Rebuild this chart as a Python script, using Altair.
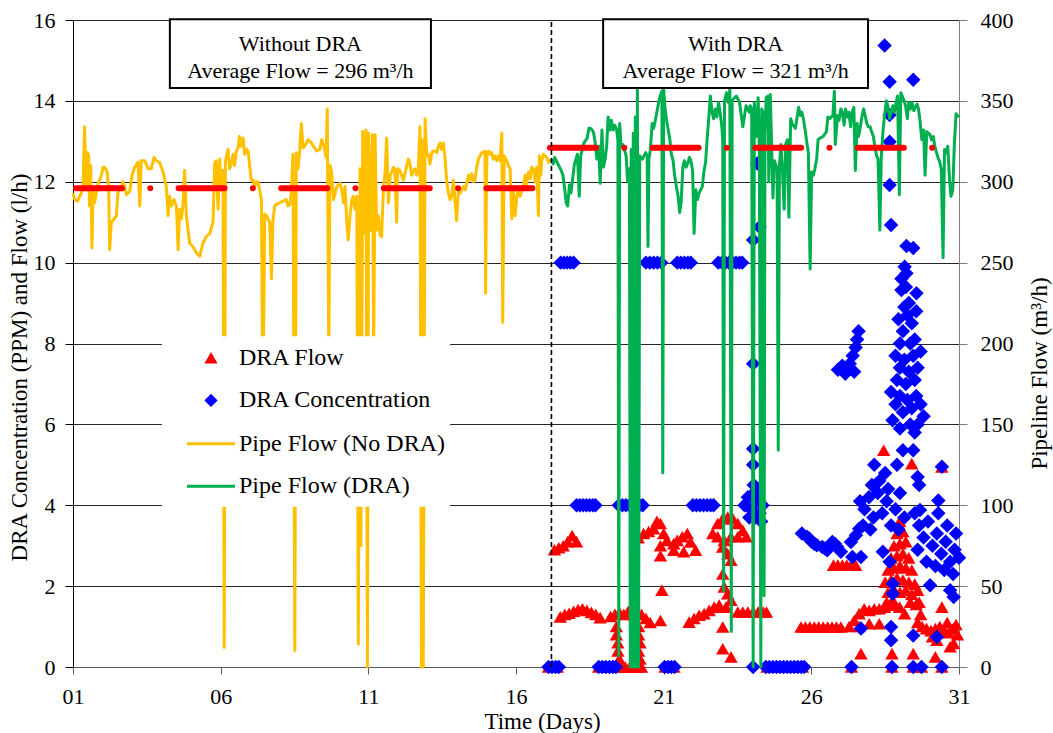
import altair as alt
import pandas as pd

FONT = "Liberation Serif"
RED = "#FF0000"
BLUE = "#0000FF"
YELLOW = "#FFC000"
GREEN = "#00B050"

# ---------------- axes / labels ----------------
x_ticks = [1, 6, 11, 16, 21, 26, 31]
left_ticks = [0, 2, 4, 6, 8, 10, 12, 14, 16]
right_ticks = [0, 50, 100, 150, 200, 250, 300, 350, 400]

series_names = ["DRA Flow", "DRA Concentration", "Pipe Flow (No DRA)", "Pipe Flow (DRA)"]

# ---------------- annotations ----------------
split_day = 17.2
avg_flow = [296, 321]
avg_start = [1.1, 17.15]
avg_end = [16.9, 31.0]

box_title = ["Without DRA", "With DRA"]
box_left = [4.28, 18.95]
box_right = [13.12, 27.92]
box_top = 16.02
box_bottom = 14.32
box_rows = [15.24, 14.56]

legend_bg_days = [4.01, 13.77]
legend_bg_vals = [3.96, 8.18]

# ---------------- data: pipeline flow (m3/h) ----------------
pipe_no_dra = [
    (1.00, 293), (1.06, 289), (1.15, 288), (1.28, 293), (1.34, 297), (1.39, 334), (1.45, 295), (1.49, 318),
    (1.53, 316), (1.56, 285), (1.60, 310), (1.64, 259), (1.68, 295), (1.73, 287), (1.79, 293), (1.85, 299),
    (1.90, 301), (1.96, 304), (2.02, 309), (2.07, 309), (2.16, 306), (2.21, 295), (2.24, 258), (2.30, 275),
    (2.35, 276), (2.47, 279), (2.52, 293), (2.64, 297), (2.69, 300), (2.75, 297), (2.81, 292), (2.92, 294),
    (3.00, 304), (3.09, 309), (3.20, 312), (3.26, 285), (3.31, 313), (3.43, 313), (3.54, 308), (3.65, 308),
    (3.74, 315), (3.82, 313), (3.93, 312), (4.05, 306), (4.16, 297), (4.22, 279), (4.27, 291), (4.33, 285),
    (4.42, 289), (4.50, 285), (4.56, 258), (4.61, 283), (4.67, 277), (4.72, 285), (4.78, 307), (4.84, 279),
    (4.95, 262), (5.06, 260), (5.18, 256), (5.29, 254), (5.40, 262), (5.51, 266), (5.63, 268), (5.74, 275),
    (5.80, 312), (5.85, 313), (5.91, 283), (5.97, 314), (6.02, 295), (6.08, 307), (6.12, 12), (6.16, 313),
    (6.25, 320), (6.30, 308), (6.36, 311), (6.42, 317), (6.47, 310), (6.53, 319), (6.59, 321), (6.64, 328),
    (6.70, 322), (6.76, 327), (6.81, 317), (6.87, 320), (6.93, 319), (6.98, 310), (7.04, 301), (7.10, 301),
    (7.15, 297), (7.21, 300), (7.26, 300), (7.32, 295), (7.38, 289), (7.43, 150), (7.49, 280), (7.55, 279),
    (7.60, 277), (7.66, 275), (7.72, 240), (7.77, 276), (7.83, 285), (7.89, 286), (8.00, 287), (8.11, 288),
    (8.22, 289), (8.28, 285), (8.34, 286), (8.39, 293), (8.45, 317), (8.51, 10), (8.56, 318), (8.62, 308),
    (8.68, 320), (8.73, 336), (8.79, 321), (8.85, 322), (8.96, 326), (9.07, 324), (9.14, 322), (9.25, 319),
    (9.36, 320), (9.42, 326), (9.50, 322), (9.57, 315), (9.61, 345), (9.66, 190), (9.70, 310), (9.76, 306),
    (9.82, 289), (9.93, 297), (10.04, 299), (10.10, 295), (10.16, 287), (10.21, 297), (10.27, 275), (10.32, 264),
    (10.38, 279), (10.44, 289), (10.49, 291), (10.55, 283), (10.61, 291), (10.66, 14), (10.72, 308), (10.75, 75),
    (10.81, 331), (10.87, 268), (10.92, 332), (10.97, 0), (11.01, 330), (11.08, 270), (11.14, 329), (11.18, 190),
    (11.23, 329), (11.28, 270), (11.34, 279), (11.40, 267), (11.45, 266), (11.51, 295), (11.57, 306), (11.62, 327),
    (11.68, 287), (11.74, 304), (11.79, 306), (11.85, 309), (11.90, 307), (11.96, 275), (11.99, 308), (12.07, 307),
    (12.19, 301), (12.30, 310), (12.36, 314), (12.41, 311), (12.47, 304), (12.52, 307), (12.58, 308), (12.64, 304),
    (12.69, 308), (12.75, 334), (12.80, 0), (12.83, 326), (12.86, 0), (12.92, 339), (12.98, 316), (13.03, 317),
    (13.09, 311), (13.15, 318), (13.20, 319), (13.26, 319), (13.32, 318), (13.37, 322), (13.43, 324), (13.48, 320),
    (13.54, 324), (13.60, 314), (13.65, 301), (13.71, 293), (13.77, 289), (13.82, 291), (13.88, 301), (13.94, 287),
    (13.99, 276), (14.05, 295), (14.11, 293), (14.16, 295), (14.22, 297), (14.28, 295), (14.33, 299), (14.39, 304),
    (14.44, 301), (14.50, 305), (14.56, 300), (14.61, 301), (14.67, 309), (14.73, 314), (14.78, 316), (14.84, 318),
    (14.90, 318), (14.95, 319), (14.97, 231), (15.01, 316), (15.07, 319), (15.12, 317), (15.18, 318), (15.23, 314),
    (15.29, 316), (15.35, 313), (15.40, 316), (15.46, 313), (15.52, 330), (15.55, 213), (15.60, 316), (15.69, 313),
    (15.74, 310), (15.80, 308), (15.86, 277), (15.91, 295), (15.97, 279), (16.02, 289), (16.08, 297), (16.14, 291),
    (16.25, 297), (16.31, 304), (16.36, 298), (16.42, 306), (16.48, 302), (16.53, 309), (16.59, 308), (16.65, 300),
    (16.70, 309), (16.76, 279), (16.79, 316), (16.84, 304), (16.87, 313), (16.93, 317), (16.98, 316), (17.04, 315),
    (17.10, 312), (17.15, 314),
]

pipe_dra = [
    (17.20, 314), (17.26, 311), (17.31, 315), (17.42, 311), (17.53, 307), (17.59, 304), (17.64, 297), (17.70, 287),
    (17.75, 285), (17.81, 298), (17.86, 293), (17.92, 302), (17.97, 310), (18.03, 314), (18.08, 317), (18.14, 291),
    (18.19, 316), (18.30, 324), (18.41, 327), (18.47, 333), (18.52, 333), (18.58, 332), (18.63, 330), (18.69, 323),
    (18.74, 314), (18.80, 322), (18.85, 299), (18.91, 332), (18.96, 309), (19.02, 314), (19.07, 322), (19.12, 340),
    (19.18, 332), (19.23, 338), (19.29, 332), (19.34, 335), (19.40, 333), (19.45, 326), (19.48, 7), (19.51, 336),
    (19.56, 322), (19.62, 323), (19.73, 316), (19.78, 300), (19.84, 308), (19.87, 0), (19.90, 320), (19.94, 0),
    (19.97, 330), (20.00, 0), (20.04, 340), (20.07, 0), (20.11, 357), (20.15, 0), (20.19, 316), (20.28, 314),
    (20.39, 318), (20.44, 316), (20.47, 260), (20.50, 314), (20.55, 320), (20.61, 336), (20.66, 333), (20.72, 338),
    (20.77, 343), (20.83, 349), (20.88, 353), (20.94, 356), (20.97, 120), (21.00, 357), (21.05, 345), (21.10, 338),
    (21.21, 326), (21.26, 317), (21.32, 313), (21.37, 304), (21.43, 297), (21.49, 291), (21.54, 281), (21.59, 287),
    (21.65, 309), (21.70, 313), (21.76, 309), (21.81, 311), (21.87, 315), (21.92, 313), (21.98, 307), (22.03, 268),
    (22.09, 295), (22.14, 289), (22.20, 293), (22.25, 295), (22.31, 297), (22.36, 306), (22.42, 312), (22.47, 326),
    (22.53, 340), (22.58, 353), (22.64, 343), (22.69, 339), (22.75, 345), (22.80, 340), (22.86, 349), (22.91, 343),
    (22.97, 334), (23.00, 326), (23.03, 47), (23.06, 350), (23.13, 355), (23.19, 349), (23.24, 357), (23.29, 22),
    (23.32, 350), (23.35, 351), (23.46, 353), (23.57, 349), (23.68, 334), (23.79, 347), (23.90, 343), (23.93, 347),
    (23.98, 345), (24.03, 0), (24.07, 349), (24.15, 328), (24.20, 352), (24.24, 320), (24.29, 0), (24.32, 345),
    (24.36, 343), (24.40, 44), (24.43, 330), (24.47, 352), (24.53, 353), (24.56, 300), (24.61, 354), (24.70, 290),
    (24.75, 313), (24.84, 308), (24.88, 134), (24.92, 310), (24.97, 323), (25.02, 308), (25.08, 283), (25.13, 323),
    (25.19, 326), (25.24, 278), (25.30, 339), (25.35, 336), (25.46, 333), (25.57, 346), (25.63, 341), (25.68, 343),
    (25.74, 338), (25.79, 332), (25.85, 324), (25.90, 318), (25.96, 246), (26.01, 306), (26.07, 304), (26.12, 308),
    (26.18, 314), (26.23, 326), (26.29, 327), (26.40, 328), (26.51, 331), (26.56, 340), (26.62, 339), (26.73, 341),
    (26.78, 356), (26.81, 323), (26.89, 341), (26.94, 338), (27.00, 345), (27.05, 343), (27.11, 335), (27.16, 345),
    (27.22, 340), (27.27, 343), (27.33, 334), (27.38, 343), (27.44, 346), (27.49, 307), (27.55, 336), (27.60, 328),
    (27.66, 334), (27.71, 340), (27.77, 345), (27.82, 341), (27.88, 336), (27.93, 334), (27.99, 334), (28.04, 331),
    (28.10, 328), (28.15, 322), (28.21, 316), (28.26, 314), (28.32, 270), (28.37, 316), (28.43, 332), (28.48, 341),
    (28.54, 350), (28.59, 347), (28.65, 339), (28.76, 347), (28.81, 343), (28.87, 349), (28.92, 353), (28.98, 292),
    (29.03, 355), (29.08, 353), (29.14, 350), (29.19, 347), (29.25, 339), (29.30, 349), (29.36, 345), (29.41, 349),
    (29.47, 344), (29.52, 346), (29.58, 348), (29.63, 345), (29.69, 336), (29.74, 326), (29.80, 332), (29.85, 304),
    (29.91, 331), (30.02, 329), (30.07, 326), (30.13, 328), (30.18, 322), (30.24, 318), (30.29, 315), (30.35, 312),
    (30.40, 308), (30.46, 253), (30.51, 320), (30.57, 318), (30.62, 322), (30.68, 301), (30.73, 291), (30.79, 295),
    (30.84, 322), (30.90, 342), (30.95, 341), (31.00, 340),
]

# ---------------- data: DRA flow (l/h) ----------------
dra_flow = [
    (17.10, 0), (17.25, 0), (17.40, 0), (18.80, 0), (18.95, 0), (19.10, 0), (19.25, 0), (19.40, 0),
    (19.55, 0), (19.70, 0), (19.85, 0), (20.00, 0), (20.15, 0), (20.25, 0), (21.05, 0), (21.20, 0), (21.35, 0),
    (24.50, 0), (24.70, 0), (24.90, 0), (25.10, 0), (25.30, 0), (25.50, 0), (25.70, 0), (27.36, 0), (28.73, 0),
    (29.45, 0), (29.73, 0), (30.42, 0),
    (17.30, 2.90), (17.45, 2.95), (17.60, 3.00), (17.75, 3.10), (17.90, 3.25), (18.05, 3.10),
    (17.50, 1.24), (17.65, 1.30), (17.80, 1.33), (17.95, 1.38), (18.10, 1.42), (18.25, 1.44), (18.40, 1.40),
    (18.55, 1.35), (18.70, 1.30), (18.85, 1.22),
    (19.20, 1.25), (19.35, 1.30), (19.50, 1.35), (19.65, 1.30), (19.80, 1.38), (19.95, 1.30), (20.10, 1.35),
    (20.25, 1.30), (20.40, 1.20), (20.54, 1.10),
    (19.40, 1.00), (19.40, 0.80), (19.45, 0.60), (19.45, 0.40), (19.50, 0.20),
    (20.15, 1.00), (20.15, 0.80), (20.20, 0.60), (20.15, 0.40), (20.20, 0.20),
    (20.14, 3.20), (20.32, 3.30), (20.49, 3.35), (20.66, 3.42), (20.77, 3.60), (20.89, 3.55), (21.00, 3.30),
    (21.11, 3.13), (20.89, 3.00), (20.89, 2.75), (20.94, 1.90), (20.89, 1.15),
    (21.34, 3.05), (21.46, 3.13), (21.63, 3.22), (21.80, 3.30), (21.91, 3.09), (22.08, 2.89), (21.34, 2.89),
    (21.68, 2.85),
    (21.86, 1.11), (22.03, 1.20), (22.20, 1.28), (22.37, 1.32), (22.54, 1.40), (22.71, 1.48), (22.88, 1.53),
    (22.66, 3.30), (22.83, 3.55), (23.00, 3.67), (23.17, 3.71), (23.34, 3.67), (23.51, 3.55), (23.68, 3.38),
    (23.80, 3.22), (22.83, 3.22), (23.05, 3.13), (23.28, 3.22), (23.51, 3.22),
    (23.00, 2.97), (23.17, 2.80), (23.28, 2.64), (23.00, 2.30), (23.05, 1.98), (23.17, 1.81), (23.28, 1.65),
    (23.11, 1.48), (23.00, 0.99), (23.00, 0.45), (23.28, 0.25),
    (23.51, 1.36), (23.68, 1.36), (23.85, 1.36), (24.03, 1.36), (24.20, 1.36), (24.37, 1.36), (24.48, 1.36),
    (25.65, 0.99), (25.80, 0.99), (25.95, 0.99), (26.10, 0.99), (26.25, 0.99), (26.40, 0.99), (26.55, 0.99),
    (26.70, 0.99), (26.85, 0.99), (27.00, 0.99),
    (26.75, 2.52), (26.90, 2.52), (27.05, 2.52), (27.20, 2.52), (27.35, 2.52), (27.50, 2.52),
    (27.28, 1.00), (27.45, 1.15), (27.62, 1.32), (27.79, 1.44), (27.96, 1.40), (28.13, 1.44), (28.30, 1.44),
    (28.48, 1.48), (28.65, 1.53), (28.82, 1.57), (28.99, 1.48), (29.16, 1.32), (27.62, 1.00), (27.96, 1.07),
    (28.30, 1.07),
    (28.99, 3.60), (28.90, 3.30), (29.10, 3.35), (28.80, 3.00), (29.00, 3.05), (29.20, 3.10), (28.70, 2.70),
    (28.90, 2.75), (29.10, 2.80), (29.30, 2.70), (28.60, 2.40), (28.80, 2.45), (29.00, 2.50), (29.20, 2.45),
    (29.40, 2.40), (28.50, 2.10), (28.70, 2.15), (28.90, 2.20), (29.10, 2.15), (29.30, 2.10), (29.50, 2.05),
    (28.60, 1.85), (28.80, 1.90), (29.00, 1.85), (29.20, 1.90), (29.40, 1.80), (28.55, 1.60), (28.75, 1.65),
    (29.35, 1.60), (29.55, 1.55),
    (28.45, 5.36), (29.40, 5.03), (30.42, 4.95), (30.42, 1.48), (30.25, 0.66), (30.82, 0.58), (30.70, 0.50),
    (27.68, 0.33), (28.73, 0.33), (29.45, 0.33), (30.20, 0.25),
    (29.60, 1.10), (29.75, 1.00), (29.90, 0.95), (30.05, 0.90), (30.20, 0.95), (30.35, 1.00), (30.50, 0.90),
    (30.65, 0.85), (30.80, 0.95), (30.95, 0.80), (29.70, 1.30), (29.65, 1.60), (29.60, 1.90), (30.10, 0.75),
    (30.60, 1.10), (30.90, 1.05),
]

# ---------------- data: DRA concentration (ppm) ----------------
dra_conc = [
    (17.10, 0), (17.22, 0), (17.34, 0), (17.45, 0), (18.80, 0), (18.92, 0), (19.04, 0), (19.16, 0), (19.28, 0),
    (19.38, 0), (21.03, 0), (21.15, 0), (21.26, 0), (21.37, 0), (24.03, 0), (24.46, 0), (24.58, 0), (24.70, 0),
    (24.82, 0), (24.94, 0), (25.06, 0), (25.18, 0), (25.30, 0), (25.42, 0), (25.54, 0), (25.66, 0), (25.76, 0),
    (27.36, 0), (28.73, 0), (29.45, 0), (29.73, 0), (30.42, 0),
    (18.05, 4), (18.16, 4), (18.27, 4), (18.38, 4), (18.49, 4), (18.60, 4), (18.69, 4),
    (19.48, 4), (19.60, 4), (19.72, 4), (19.84, 4), (19.96, 4), (20.08, 4), (20.19, 4), (20.29, 4),
    (21.99, 4), (22.11, 4), (22.23, 4), (22.35, 4), (22.47, 4), (22.59, 4), (22.69, 4),
    (23.74, 4.0), (23.85, 4.2), (23.95, 3.9), (24.05, 4.3), (24.15, 4.1), (24.25, 3.8), (24.35, 4.0),
    (23.90, 3.7), (24.10, 3.7), (24.20, 4.4), (24.30, 3.6),
    (17.51, 10), (17.62, 10), (17.73, 10), (17.84, 10), (17.95, 10),
    (20.40, 10), (20.53, 10), (20.66, 10), (20.79, 10), (20.92, 10),
    (21.46, 10), (21.58, 10), (21.70, 10), (21.82, 10), (21.92, 10),
    (22.85, 10), (22.97, 10), (23.09, 10), (23.21, 10), (23.33, 10), (23.45, 10), (23.57, 10), (23.66, 10),
    (24.03, 10.56), (24.25, 10.88), (24.17, 12.45), (24.03, 7.50), (24.03, 5.40), (24.03, 5.00), (24.05, 4.50),
    (25.68, 3.30), (25.85, 3.22), (25.93, 3.18), (26.02, 3.09), (26.11, 3.04), (26.19, 3.01), (26.37, 2.97),
    (26.46, 2.93), (26.54, 2.89), (26.71, 3.09), (26.80, 3.05), (26.88, 2.97), (27.00, 2.85),
    (27.34, 3.09), (27.39, 2.72), (27.51, 3.26), (27.62, 3.42), (27.68, 2.72),
    (26.90, 7.35), (27.05, 7.45), (27.15, 7.25), (27.20, 7.40), (27.30, 7.50), (27.40, 7.70), (27.45, 7.30),
    (27.50, 7.90), (27.55, 8.10), (27.60, 8.30),
    (28.48, 15.37), (28.65, 14.47), (29.45, 14.52), (28.65, 13.65), (28.65, 12.99), (28.65, 11.92),
    (28.70, 10.93), (29.22, 10.41), (29.45, 10.36), (29.16, 9.90), (29.22, 9.74), (29.05, 9.32), (29.56, 9.24),
    (29.05, 9.60), (29.20, 9.40), (29.30, 9.00), (29.15, 8.90), (28.95, 8.60), (29.10, 8.30), (29.25, 8.70),
    (29.40, 8.50), (29.50, 8.10), (29.35, 8.00), (29.00, 8.00), (29.55, 8.80), (28.85, 7.70), (29.00, 7.40),
    (29.15, 7.60), (29.30, 7.30), (29.45, 7.70), (29.60, 7.40), (29.70, 7.80), (29.20, 7.00), (29.50, 7.10),
    (28.90, 7.10), (28.70, 6.80), (28.85, 6.50), (29.00, 6.70), (29.10, 6.30), (29.25, 6.60), (29.40, 6.40),
    (29.55, 6.70), (29.70, 6.50), (29.80, 6.20), (28.75, 6.10), (29.35, 6.00), (29.60, 6.00), (29.00, 5.90),
    (29.50, 5.80), (29.10, 5.36), (29.45, 5.36), (28.90, 5.00), (29.60, 4.70), (28.13, 5.00), (30.42, 4.95),
    (29.65, 4.50),
    (27.65, 4.10), (27.80, 3.90), (27.95, 4.20), (28.10, 3.70), (28.25, 4.30), (28.40, 3.80), (28.55, 4.10),
    (28.70, 3.50), (28.85, 3.90), (29.00, 4.30), (29.15, 3.70), (27.75, 3.50), (28.00, 3.40), (28.30, 4.60),
    (28.50, 4.80), (28.05, 4.50), (28.60, 4.40), (28.95, 3.40),
    (29.50, 3.80), (29.65, 3.50), (29.80, 3.20), (29.95, 3.60), (30.10, 3.00), (30.25, 3.30), (30.40, 2.80),
    (30.55, 3.10), (30.70, 2.60), (30.85, 2.90), (31.00, 2.70), (29.60, 2.90), (29.90, 2.60), (30.20, 2.50),
    (30.50, 2.40), (30.80, 2.30), (30.30, 3.80), (30.60, 3.50), (30.90, 3.30), (30.30, 4.12), (29.68, 3.88),
    (30.82, 1.73), (30.70, 1.90), (30.02, 2.02),
    (28.42, 2.85), (28.65, 2.60), (28.76, 2.06), (28.76, 1.81), (28.70, 0.99), (28.70, 0.66), (27.68, 0.95),
    (29.45, 0.78), (30.25, 0.74),
]

# ---------------- frames ----------------
df_no = pd.DataFrame(pipe_no_dra, columns=["day", "flow"])
df_dra = pd.DataFrame(pipe_dra, columns=["day", "flow"])
df_flow = pd.DataFrame(dra_flow, columns=["day", "val"])
df_conc = pd.DataFrame(dra_conc, columns=["day", "val"])
df_avg = pd.DataFrame({"start": avg_start, "end": avg_end, "flow": avg_flow})
df_split = pd.DataFrame({"day": [split_day], "y0": [0], "y1": [16]})
df_bg = pd.DataFrame({"x0": [legend_bg_days[0]], "x1": [legend_bg_days[1]],
                      "y0": [legend_bg_vals[0]], "y1": [legend_bg_vals[1]]})
df_box = pd.DataFrame({"x0": box_left, "x1": box_right, "y0": [box_bottom] * 2, "y1": [box_top] * 2})
text_rows = []
for t, a, l, r in zip(box_title, avg_flow, box_left, box_right):
    text_rows.append({"xc": (l + r) / 2, "row": box_rows[0], "label": t})
    text_rows.append({"xc": (l + r) / 2, "row": box_rows[1], "label": f"Average  Flow = {a} m³/h"})
df_text = pd.DataFrame(text_rows)
df_leg = pd.DataFrame({"series": series_names, "day": [-20] * 4})

# ---------------- scales / axes ----------------
xscale = alt.Scale(domain=[1, 31], nice=False, zero=False)
x_axis = alt.Axis(
    orient="bottom", values=x_ticks,
    labelExpr="datum.value < 10 ? '0' + datum.value : '' + datum.value",
    title="Time (Days)", titleFont=FONT, titleFontSize=23, titleFontWeight="normal", titleColor="black",
    titleX=469, titleY=43, titleAlign="center", titleBaseline="top",
    labelFont=FONT, labelFontSize=22, labelColor="black", labelPadding=12, labelFlush=False,
    labelOverlap=False, tickSize=7, tickColor="#595959", domainColor="#595959", grid=False,
)
left_axis = alt.Axis(
    orient="left", values=left_ticks, title="DRA Concentration (PPM) and Flow (l/h)",
    titleFont=FONT, titleFontSize=23, titleFontWeight="normal", titleColor="black",
    titleAngle=270, titleX=-42, titleY=347, titleAlign="center", titleBaseline="bottom",
    labelFont=FONT, labelFontSize=22, labelColor="black", labelPadding=10, tickSize=8,
    tickColor="black", domainColor="black", grid=True, gridColor="#262626", gridWidth=1,
)
right_axis = alt.Axis(
    orient="right", values=right_ticks, title="Pipeline Flow (m³/h)",
    titleFont=FONT, titleFontSize=23, titleFontWeight="normal", titleColor="black",
    titleAngle=270, titleX=92, titleY=353, titleAlign="center", titleBaseline="bottom",
    labelFont=FONT, labelFontSize=22, labelColor="black", labelPadding=13, tickSize=8,
    tickColor="#808080", domainColor="#808080", grid=False,
)


def X(field="day"):
    return alt.X(f"{field}:Q", scale=xscale, axis=x_axis)


yL = alt.Y("val:Q", scale=alt.Scale(domain=[0, 16], nice=False), axis=left_axis)
yR = alt.Y("flow:Q", scale=alt.Scale(domain=[0, 400], nice=False), axis=right_axis)
ann_scale = alt.Scale(domain=[0, 16], nice=False)


def YA(field):
    return alt.Y(f"{field}:Q", scale=ann_scale, axis=None)


# ---------------- left (l/h, ppm) ----------------
tri = alt.Chart(df_flow).mark_point(shape="triangle-up", filled=True, color=RED, size=180,
                                    opacity=1, strokeWidth=0).encode(x=X(), y=yL)
dia = alt.Chart(df_conc).mark_point(shape="diamond", filled=True, color=BLUE, size=210,
                                    opacity=1, strokeWidth=0).encode(x=X(), y=yL)
left = alt.layer(tri, dia)

# ---------------- right (m3/h) ----------------
l_no = alt.Chart(df_no).mark_line(color=YELLOW, strokeWidth=3, strokeJoin="round").encode(x=X(), y=yR)
l_dra = alt.Chart(df_dra).mark_line(color=GREEN, strokeWidth=3, strokeJoin="round").encode(x=X(), y=yR)
avg = alt.Chart(df_avg).mark_rule(color=RED, strokeWidth=6, strokeDash=[46, 28.3, 0.01, 28.3],
                                  strokeCap="round").encode(x=X("start"), x2="end:Q", y=yR)
right = alt.layer(l_no, l_dra, avg)

# ---------------- annotations + legend ----------------
bg = alt.Chart(df_bg).mark_rect(fill="white").encode(x=X("x0"), x2="x1:Q", y=YA("y0"), y2="y1:Q")
boxes = alt.Chart(df_box).mark_rect(fill="white", stroke="black", strokeWidth=2).encode(
    x=X("x0"), x2="x1:Q", y=YA("y0"), y2="y1:Q")
texts = alt.Chart(df_text).mark_text(font=FONT, fontSize=22, color="black", align="center",
                                     baseline="alphabetic").encode(x=X("xc"), y=YA("row"), text="label:N")
split = alt.Chart(df_split).mark_rule(color="black", strokeWidth=1.6, strokeDash=[5, 3]).encode(
    x=X("day"), y=YA("y0"), y2="y1:Q")

leg = alt.Legend(orient="none", legendX=124.5, legendY=324.5, title=None, labelFont=FONT,
                 labelFontSize=24, labelColor="black", labelLimit=400, labelOffset=14.5,
                 rowPadding=16.4, padding=0, symbolStrokeWidth=3, symbolOpacity=1, symbolSize=576)
legend_paths = ["M0,-0.5L0.55,0.46L-0.55,0.46Z", "M0,-0.55L0.55,0L0,0.55L-0.55,0Z", "M-2,0L2,0", "M-2,0L2,0"]
legend_layer = alt.Chart(df_leg).mark_point(filled=True, size=576, strokeWidth=3, opacity=1, clip=True).encode(
    x=X("day"),
    shape=alt.Shape("series:N", scale=alt.Scale(domain=series_names, range=legend_paths), legend=leg),
    fill=alt.Fill("series:N", scale=alt.Scale(domain=series_names,
                                              range=[RED, BLUE, "transparent", "transparent"]), legend=leg),
    stroke=alt.Stroke("series:N", scale=alt.Scale(domain=series_names,
                                                  range=["transparent", "transparent", YELLOW, GREEN]), legend=leg),
)
ann = alt.layer(bg, boxes, texts, split, legend_layer)

chart = alt.layer(left, right, ann).resolve_scale(y="independent").properties(
    width=886, height=647,
    autosize=alt.AutoSizeParams(type="none"),
    padding={"left": 73, "top": 20, "right": 94, "bottom": 66},
    background="white",
).configure_view(stroke=None)

chart.save("out.html", embed_options={"renderer": "svg", "actions": False})
